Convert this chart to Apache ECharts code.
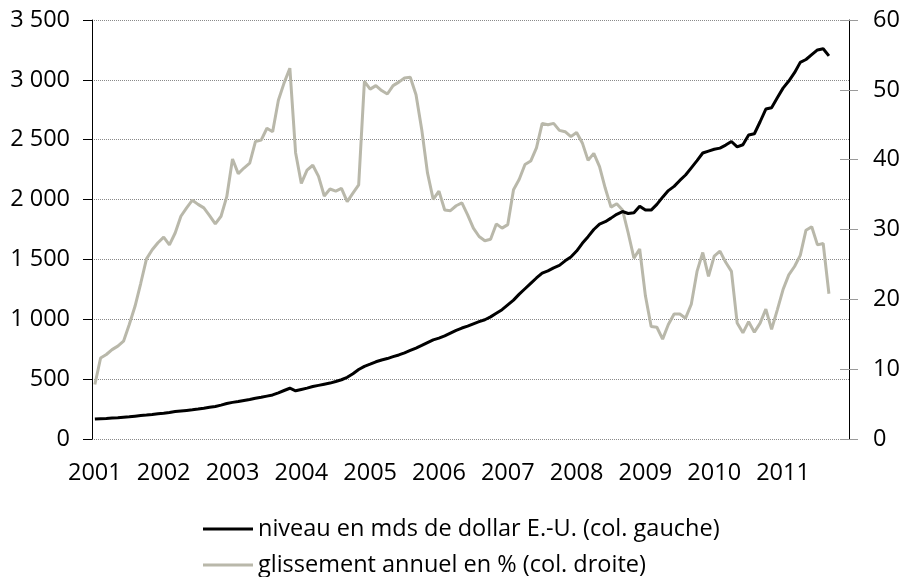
<!DOCTYPE html>
<html>
<head>
<meta charset="utf-8">
<script src="https://cdn.jsdelivr.net/npm/echarts@6/dist/echarts.min.js"></script>
<style>
  html, body { margin: 0; padding: 0; background: #fff; }
  #chart { width: 905px; height: 577px; }
</style>
</head>
<body>
<div id="chart"></div>
<script>
// Years shown on the time axis; the axis itself is monthly (Jan 2001 – Dec 2011)
const years = [2001, 2002, 2003, 2004, 2005, 2006, 2007, 2008, 2009, 2010, 2011];

// Stock level, billions of US dollars (left scale), monthly from Jan 2001
const niveau = [
  167, 170, 172, 175, 178, 182, 186, 191, 196, 200, 205, 211,
  216, 222, 229, 234, 239, 244, 250, 257, 265, 272, 283, 296,
  306, 313, 322, 330, 340, 348, 358, 368, 386, 405, 424, 403,
  414, 425, 438, 448, 458, 467, 480, 495, 515, 545, 580, 607,
  625, 645, 660, 672, 688, 702, 720, 740, 760, 782, 805, 828,
  843, 862, 885, 908, 927, 943, 962, 980, 996, 1020, 1050, 1080,
  1120, 1160, 1210, 1255, 1300, 1345, 1386, 1405, 1430, 1450, 1488, 1520,
  1570, 1635, 1690, 1750, 1795, 1815, 1845, 1877, 1900, 1884, 1890, 1945,
  1912, 1912, 1960, 2020, 2075, 2110, 2160, 2205, 2265, 2325, 2389, 2405,
  2420, 2430, 2455, 2485, 2440, 2458, 2540, 2550, 2650, 2756, 2767, 2850,
  2931, 2990, 3060, 3146, 3170, 3210, 3250, 3260, 3200
];

// Year-on-year change in % (right scale), monthly from Jan 2001
const glissement = [
  7.8, 11.6, 12.1, 12.8, 13.3, 14.0, 16.4, 19.0, 22.3, 25.8, 27.1, 28.1,
  28.9, 27.8, 29.5, 31.9, 33.1, 34.2, 33.6, 33.1, 32.0, 30.8, 31.9, 34.7,
  40.1, 38.0, 38.8, 39.5, 42.6, 42.8, 44.5, 44.0, 48.5, 51.0, 53.1, 41.0,
  36.6, 38.5, 39.2, 37.6, 34.8, 35.8, 35.5, 35.9, 34.0, 35.2, 36.4, 51.2,
  50.1, 50.6, 49.9, 49.4, 50.6, 51.1, 51.7, 51.8, 49.3, 44.3, 38.1, 34.3,
  35.5, 32.8, 32.7, 33.4, 33.8, 32.1, 30.2, 29.0, 28.4, 28.6, 30.8, 30.2,
  30.7, 35.7, 37.2, 39.3, 39.8, 41.7, 45.2, 45.0, 45.2, 44.2, 44.0, 43.3,
  43.9, 42.4, 39.9, 40.9, 39.0, 35.9, 33.2, 33.7, 32.8, 29.5, 25.9, 27.2,
  20.5, 16.1, 16.0, 14.3, 16.4, 17.9, 17.9, 17.3, 19.3, 24.0, 26.7, 23.3,
  26.2, 26.9, 25.3, 24.0, 16.6, 15.2, 16.8, 15.3, 16.6, 18.6, 15.7, 18.5,
  21.4, 23.5, 24.7, 26.3, 29.9, 30.4, 27.8, 28.0, 20.8
];

const seriesNames = [
  'niveau en mds de dollar E.-U. (col. gauche)',
  'glissement annuel en % (col. droite)'
];

// Monthly category labels "YYYY-MM"
const months = [];
years.forEach(y => {
  for (let m = 1; m <= 12; m++) months.push(y + '-' + String(m).padStart(2, '0'));
});

const FONT = '"Open Sans", sans-serif';
const FS = 23.5;
const GREY = '#b9b8aa';

function spaced(v) {
  return String(v).replace(/\B(?=(\d{3})+(?!\d))/g, ' ');
}

// one legend row per series, stacked under the plot
function legendRow(name, top) {
  return {
    left: 203,
    top: top,
    padding: 0,
    itemWidth: 50,
    itemHeight: 3,
    icon: 'rect',
    textStyle: { fontFamily: FONT, fontSize: FS, color: '#000', lineHeight: 24 },
    data: [name]
  };
}

const chart = echarts.init(document.getElementById('chart'), null, { renderer: 'canvas' });

chart.setOption({
  animation: false,
  backgroundColor: '#fff',
  textStyle: { fontFamily: FONT },
  grid: { left: 92, right: 56, top: 20, bottom: 138, containLabel: false },
  legend: [legendRow(seriesNames[0], 517), legendRow(seriesNames[1], 553)],
  xAxis: {
    type: 'category',
    data: months,
    boundaryGap: true,
    axisLine: { show: false },
    axisTick: { show: false },
    splitLine: { show: false },
    axisLabel: {
      interval: (idx) => idx % 12 === 0,
      formatter: (v) => v.slice(0, 4),
      margin: 22,
      fontFamily: FONT,
      fontSize: FS,
      color: '#000'
    }
  },
  yAxis: [
    {
      type: 'value',
      position: 'left',
      min: 0, max: 3500, interval: 500,
      axisLine: { show: true, lineStyle: { color: '#000', width: 1 } },
      axisTick: { show: true, length: 9, lineStyle: { color: '#000', width: 1 } },
      splitLine: { show: true, lineStyle: { color: '#8a8a8a', type: 'dotted', width: 1 } },
      axisLabel: {
        margin: 22,
        fontFamily: FONT, fontSize: FS, color: '#000',
        formatter: spaced
      }
    },
    {
      type: 'value',
      position: 'right',
      min: 0, max: 60, interval: 10,
      axisLine: { show: true, lineStyle: { color: '#000', width: 1 } },
      axisTick: { show: true, length: 9, lineStyle: { color: '#9a9a9a', width: 1 } },
      splitLine: { show: false },
      axisLabel: {
        margin: 24,
        fontFamily: FONT, fontSize: FS, color: '#000'
      }
    },
    {
      // inner half of the right-hand tick marks
      type: 'value',
      position: 'right',
      min: 0, max: 60, interval: 10,
      axisLine: { show: false },
      axisTick: { show: true, inside: true, length: 9, lineStyle: { color: '#9a9a9a', width: 1 } },
      splitLine: { show: false },
      axisLabel: { show: false }
    }
  ],
  series: [
    {
      name: seriesNames[0],
      type: 'line',
      yAxisIndex: 0,
      data: niveau,
      showSymbol: false,
      symbol: 'none',
      z: 3,
      color: '#000',
      lineStyle: { color: '#000', width: 3 }
    },
    {
      name: seriesNames[1],
      type: 'line',
      yAxisIndex: 1,
      data: glissement,
      showSymbol: false,
      symbol: 'none',
      z: 2,
      color: GREY,
      lineStyle: { color: GREY, width: 3 }
    }
  ]
});
</script>
</body>
</html>
